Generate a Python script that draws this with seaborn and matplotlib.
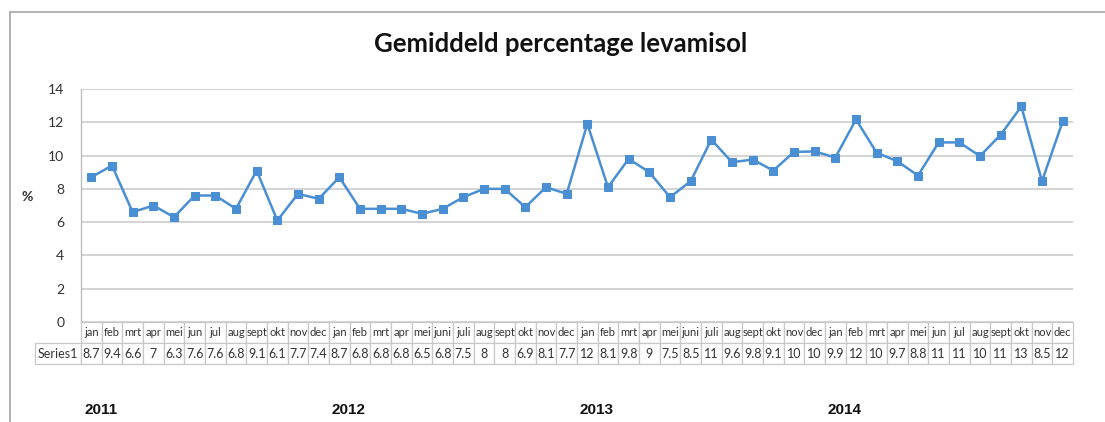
import matplotlib
matplotlib.use("Agg")
import matplotlib.pyplot as plt
from matplotlib.lines import Line2D
import seaborn as sns
import pandas as pd

# Monthly average levamisole percentage, 2011-2014
years = ["2011", "2012", "2013", "2014"]
months_2011 = ["jan", "feb", "mrt", "apr", "mei", "jun", "jul", "aug", "sept", "okt", "nov", "dec"]
months_2012 = ["jan", "feb", "mrt", "apr", "mei", "juni", "juli", "aug", "sept", "okt", "nov", "dec"]
months_2013 = ["jan", "feb", "mrt", "apr", "mei", "juni", "juli", "aug", "sept", "okt", "nov", "dec"]
months_2014 = ["jan", "feb", "mrt", "apr", "mei", "jun", "jul", "aug", "sept", "okt", "nov", "dec"]

values_2011 = [8.7, 9.4, 6.6, 7.0, 6.3, 7.6, 7.6, 6.8, 9.1, 6.1, 7.7, 7.4]
values_2012 = [8.7, 6.8, 6.8, 6.8, 6.5, 6.8, 7.5, 8.0, 8.0, 6.9, 8.1, 7.7]
values_2013 = [11.9, 8.1, 9.8, 9.0, 7.5, 8.46, 10.96, 9.6, 9.76, 9.1, 10.22, 10.25]
values_2014 = [9.88, 12.17, 10.17, 9.66, 8.8, 10.79, 10.79, 9.97, 11.25, 12.95, 8.46, 12.05]

series_name = "Series1"
title = "Gemiddeld percentage levamisol"
y_label = "%"

months = months_2011 + months_2012 + months_2013 + months_2014
values = values_2011 + values_2012 + values_2013 + values_2014
df = pd.DataFrame({"pos": range(len(values)), "month": months, "value": values})

sns.set_theme(style="white")
plt.rcParams["font.family"] = ["Lato", "DejaVu Sans"]

W, H = 1105, 422
fig = plt.figure(figsize=(W / 100, H / 100), dpi=100)
fig.patch.set_facecolor("white")

# plot area in pixel units
left, right, top, bottom = 81, 1073, 89, 322
ax = fig.add_axes([left / W, 1 - bottom / H, (right - left) / W, (bottom - top) / H])

line_color = "#4A8FD4"
sns.lineplot(data=df, x="pos", y="value", ax=ax, color=line_color, linewidth=1.8,
             marker="s", markersize=6, markeredgecolor=line_color, markerfacecolor=line_color)

ax.set_xlim(-0.5, len(values) - 0.5)
ax.set_ylim(0, 14)
ax.set_yticks(range(0, 15, 2))
ax.set_yticklabels([str(t) for t in range(0, 15, 2)], fontsize=10, color="#333333")
ax.tick_params(axis="y", length=0, pad=12)
ax.set_xticks([])
ax.set_xlabel("")
ax.set_ylabel("")
ax.grid(axis="y", color="#d4d4d4", linewidth=1.4)
ax.set_axisbelow(True)
for s in ["top", "right", "bottom"]:
    ax.spines[s].set_visible(False)
ax.spines["left"].set_color("#bfbfbf")
ax.spines["left"].set_linewidth(1.0)

fig.text(27 / W, 1 - 197 / H, y_label, ha="center", va="center", fontsize=10,
         fontweight="bold", color="#333333")
fig.text(561 / W, 1 - 44 / H, title, ha="center", va="center", fontsize=18.5,
         fontweight="bold", color="#111111")

# data table under the plot
label_w = 46
cell_w = (right - left) / len(values)
header = [""] + months
row = [series_name] + [f"{v:.2g}" for v in values]
row_h = 21
tbl_left = (left - label_w - left) / (right - left)
tbl_w = (right - left + label_w) / (right - left)
tbl_h = 2 * row_h / (bottom - top)
tbl_y = -(342 + row_h + 1 - bottom) / (bottom - top)
tbl = ax.table(cellText=[header, row], cellLoc="center",
               colWidths=[label_w] + [cell_w] * len(values),
               bbox=[tbl_left, tbl_y, tbl_w, tbl_h])
tbl.auto_set_font_size(False)
for (r, c), cell in tbl.get_celld().items():
    cell.set_edgecolor("#c8c8c8")
    cell.set_linewidth(0.9)
    cell.get_text().set_fontsize(8.0)
    cell.get_text().set_color("#333333")
    cell.PAD = 0.02
    if r == 0 and c == 0:
        cell.visible_edges = ""
    if r == 1:
        cell.get_text().set_fontsize(9.0)

# year captions
year_x = [101, 349, 597, 845]
for yx, yr in zip(year_x, years):
    fig.text(yx / W, 1 - 410 / H, yr, ha="center", va="center", fontsize=11,
             fontweight="bold", color="#111111",
             family=["Liberation Sans Narrow", "Liberation Sans", "DejaVu Sans"])

# outer chart frame (top and left edges)
frame_c = "#a6a6a6"
fig.add_artist(Line2D([10 / W, 1.0], [1 - 12 / H, 1 - 12 / H], transform=fig.transFigure,
                      color=frame_c, linewidth=1.2))
fig.add_artist(Line2D([10 / W, 10 / W], [1 - 12 / H, 0.0], transform=fig.transFigure,
                      color=frame_c, linewidth=1.2))

fig.savefig("out.png", dpi=100, facecolor="white")
